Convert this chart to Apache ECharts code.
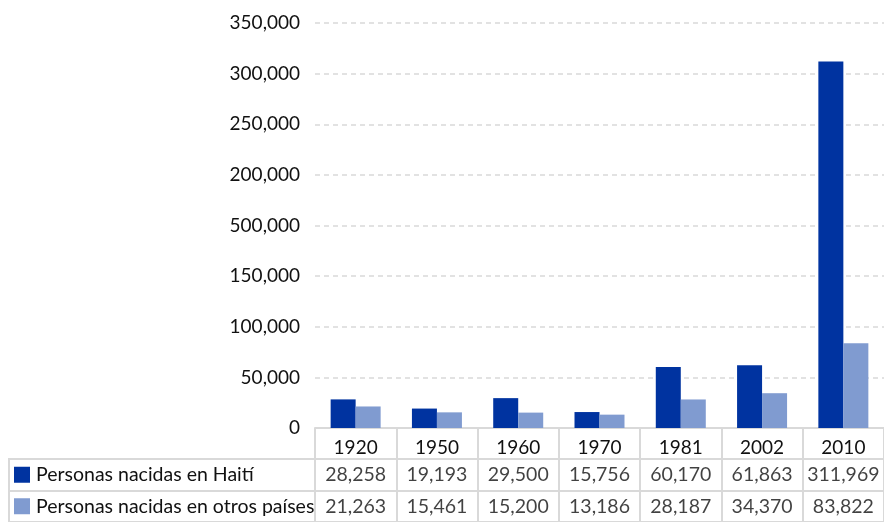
<!DOCTYPE html>
<html><head><meta charset="utf-8">
<script src="https://cdn.jsdelivr.net/npm/echarts@6/dist/echarts.min.js"></script>
<style>html,body{margin:0;padding:0;background:#fff}#c{width:884px;height:522px}</style>
</head><body><div id="c"></div>
<script>
// ---- data ----
const years = ['1920', '1950', '1960', '1970', '1981', '2002', '2010'];
const haiti = [28258, 19193, 29500, 15756, 60170, 61863, 311969];
const otros = [21263, 15461, 15200, 13186, 28187, 34370, 83822];
const seriesNames = ['Personas nacidas en Haití', 'Personas nacidas en otros países'];
// y-axis tick labels exactly as printed (bottom to top)
const tickLabels = ['0', '50,000', '100,000', '150,000', '500,000', '200,000', '250,000', '300,000', '350,000'];

// ---- helpers ----
const tickValues = tickLabels.map(s => Number(s.replace(/,/g, '')));
// position of a value on the printed axis (in tick slots), searched from the top tick downwards
function toSlot(v) {
  for (let i = tickValues.length - 2; i >= 0; i--) {
    const a = tickValues[i], b = tickValues[i + 1];
    if (a <= v && v <= b) return i + (v - a) / (b - a);
  }
  return 0;
}
const fmt = v => v.toLocaleString('en-US');
const DARK = '#0033a0', LIGHT = '#809bd0', LINE = '#d9d9d9', TXT = '#111111';
const FONT = 'Lato';

const rowNames = [seriesNames[1], seriesNames[0]]; // bottom row first
const rowColors = [LIGHT, DARK];

const cellData = [];
years.forEach((y, i) => {
  cellData.push([y, seriesNames[0], haiti[i]]);
  cellData.push([y, seriesNames[1], otros[i]]);
});

const chart = echarts.init(document.getElementById('c'), null, {renderer: 'canvas'});
chart.setOption({
  animation: false,
  backgroundColor: '#fff',
  textStyle: {fontFamily: FONT},
  grid: [
    {left: 315, right: 0, top: 23, bottom: 94},
    {left: 315, right: 0, top: 459, height: 70, show: true, borderColor: LINE, borderWidth: 2, backgroundColor: 'transparent'},
    {left: 9, width: 306, top: 459, height: 70, show: true, borderColor: LINE, borderWidth: 2, backgroundColor: 'transparent'}
  ],
  xAxis: [
    {
      type: 'category', gridIndex: 0, data: years,
      axisLine: {show: true, lineStyle: {color: LINE, width: 2}},
      axisTick: {show: true, interval: 0, length: 31, lineStyle: {color: LINE, width: 2}},
      axisLabel: {interval: 0, margin: 10, color: TXT, fontSize: 19, fontFamily: FONT}
    },
    {
      type: 'category', gridIndex: 1, data: years,
      axisLine: {show: false}, axisTick: {show: false}, axisLabel: {show: false},
      splitLine: {show: true, interval: 0, lineStyle: {color: LINE, width: 2}}
    },
    {
      type: 'value', gridIndex: 2, show: false, min: 0, max: 1
    }
  ],
  yAxis: [
    {
      type: 'value', gridIndex: 0, min: 0, max: tickLabels.length - 1, interval: 1,
      axisLine: {show: false}, axisTick: {show: false},
      axisLabel: {margin: 15, color: TXT, fontSize: 19, fontFamily: FONT,
        formatter: v => tickLabels[Math.round(v)]},
      splitLine: {show: true, lineStyle: {color: LINE, width: 1.5, type: [5, 4]}}
    },
    {
      type: 'category', gridIndex: 1, data: rowNames,
      axisLine: {show: false}, axisTick: {show: false}, axisLabel: {show: false},
      splitLine: {show: true, interval: 0, lineStyle: {color: LINE, width: 2}}
    },
    {
      type: 'category', gridIndex: 2, data: rowNames,
      axisLine: {show: false}, axisTick: {show: false},
      splitLine: {show: true, interval: 0, lineStyle: {color: LINE, width: 2}},
      axisLabel: {
        show: true, align: 'left', margin: -5, color: TXT, fontSize: 19.5, fontFamily: FONT,
        formatter: (v, i) => '{sq' + i + '|}{t|' + v + '}',
        rich: {
          sq0: {width: 16, height: 16, backgroundColor: rowColors[0]},
          sq1: {width: 16, height: 16, backgroundColor: rowColors[1]},
          t: {fontSize: 19.5, fontFamily: FONT, color: TXT, padding: [0, 0, 0, 6]}
        }
      }
    }
  ],
  series: [
    {
      name: seriesNames[0], type: 'bar', xAxisIndex: 0, yAxisIndex: 0,
      data: haiti.map(toSlot), barWidth: 25, barGap: '0%',
      itemStyle: {color: DARK}
    },
    {
      name: seriesNames[1], type: 'bar', xAxisIndex: 0, yAxisIndex: 0,
      data: otros.map(toSlot), barWidth: 25, barGap: '0%',
      itemStyle: {color: LIGHT}
    },
    {
      type: 'scatter', xAxisIndex: 1, yAxisIndex: 1, data: cellData,
      symbolSize: 1, itemStyle: {color: 'rgba(0,0,0,0)'},
      label: {show: true, position: 'inside', color: TXT, fontSize: 19.5, fontFamily: FONT,
        formatter: p => fmt(p.value[2])}
    }
  ]
});
</script>
</body></html>
